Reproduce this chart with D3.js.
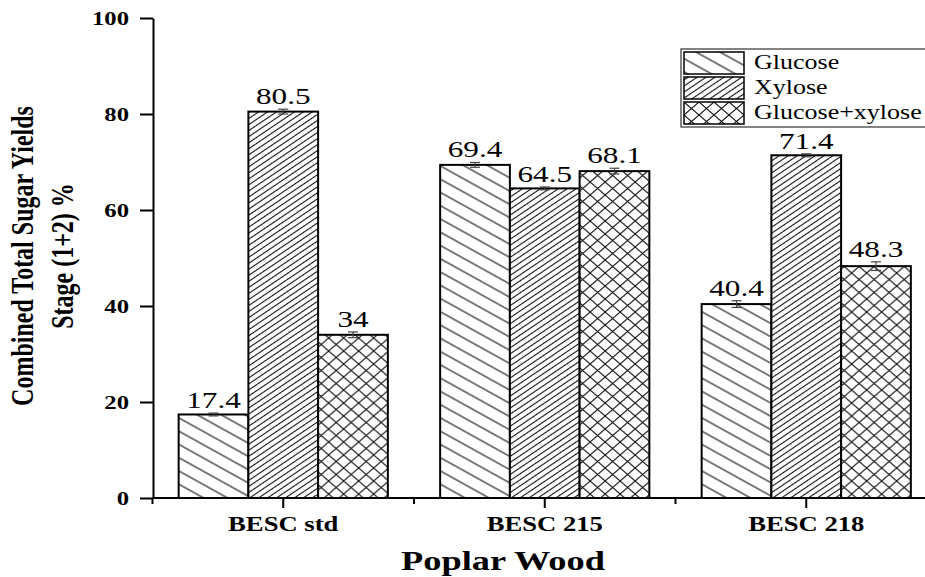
<!DOCTYPE html>
<html>
<head>
<meta charset="utf-8">
<script src="https://cdn.jsdelivr.net/npm/d3@7/dist/d3.min.js"></script>
<style>
  body { margin: 0; background: #fff; }
  svg { display: block; font-family: "Liberation Serif", "Times New Roman", serif; }
</style>
</head>
<body>
<svg id="chart" width="925" height="577"></svg>
<script>
const categories = ['BESC std', 'BESC 215', 'BESC 218'];
const series = ['Glucose', 'Xylose', 'Glucose+xylose'];
const glucose = [17.4, 69.4, 40.4];
const xylose = [80.5, 64.5, 71.4];
const combined = [34, 68.1, 48.3];
const glucoseErr = [0.3, 0.5, 0.7];
const xyloseErr = [0.5, 0.3, 0.3];
const combinedErr = [0.6, 0.6, 0.9];
const yTicks = [0, 20, 40, 60, 80, 100];

const values = [glucose, xylose, combined];
const errs = [glucoseErr, xyloseErr, combinedErr];
const rows = categories.map((c, i) => ({
  cat: c,
  bars: series.map((s, j) => ({ cat: c, s, j, v: values[j][i], e: errs[j][i] }))
}));

const SX = 1.3; // the original picture is stretched sideways
const svg = d3.select('#chart');

// hatch patterns
const defs = svg.append('defs');
const patIds = ['pat-glu', 'pat-xyl', 'pat-cross'];
function linePattern(id, gap, angle) {
  const p = defs.append('pattern').attr('id', id)
    .attr('patternUnits', 'userSpaceOnUse')
    .attr('width', 10).attr('height', gap)
    .attr('patternTransform', `rotate(${angle})`);
  p.append('rect').attr('width', 10).attr('height', gap).attr('fill', '#fff');
  p.append('line').attr('x1', 0).attr('x2', 10).attr('y1', gap / 2).attr('y2', gap / 2)
    .attr('stroke', '#111').attr('stroke-width', 1.1);
}
linePattern('pat-glu', 11.6, 29);
linePattern('pat-xyl', 5, -34);
const cp = defs.append('pattern').attr('id', 'pat-cross')
  .attr('patternUnits', 'userSpaceOnUse').attr('width', 15).attr('height', 13);
cp.append('rect').attr('width', 15).attr('height', 13).attr('fill', '#fff');
cp.append('path').attr('d', 'M0,0L15,13M15,0L0,13')
  .attr('stroke', '#111').attr('stroke-width', 1.1).attr('fill', 'none');

const x = d3.scaleBand().domain(categories).range([152.5, 937]).paddingInner(0.2).paddingOuter(0.1);
const xs = d3.scaleBand().domain(series).range([0, x.bandwidth()]);
const y = d3.scaleLinear().domain([0, 100]).range([498, 18]);

// bars
const groups = svg.selectAll('g.grp').data(rows).join('g').classed('grp', true)
  .attr('transform', d => `translate(${x(d.cat)},0)`);

groups.selectAll('rect.bar').data(d => d.bars).join('rect').classed('bar', true)
  .attr('x', d => xs(d.s))
  .attr('y', d => y(d.v))
  .attr('width', xs.bandwidth())
  .attr('height', d => y(0) - y(d.v))
  .attr('fill', d => `url(#${patIds[d.j]})`)
  .attr('stroke', '#000').attr('stroke-width', 2);

// error bars
const eb = groups.selectAll('g.err').data(d => d.bars).join('g').classed('err', true)
  .attr('transform', d => `translate(${xs(d.s) + xs.bandwidth() / 2},0)`)
  .attr('stroke', '#444').attr('stroke-width', 1.2);
eb.append('line').attr('y1', d => y(d.v + d.e)).attr('y2', d => y(d.v - d.e));
eb.append('line').attr('x1', -5).attr('x2', 5).attr('y1', d => y(d.v + d.e)).attr('y2', d => y(d.v + d.e));
eb.append('line').attr('x1', -5).attr('x2', 5).attr('y1', d => y(d.v - d.e)).attr('y2', d => y(d.v - d.e));

// value labels
groups.selectAll('text.val').data(d => d.bars).join('text').classed('val', true)
  .attr('transform', d => `translate(${xs(d.s) + xs.bandwidth() / 2},${y(d.v + d.e) - 5}) scale(${SX},1)`)
  .attr('text-anchor', 'middle')
  .attr('font-size', 24)
  .attr('fill', '#000')
  .text(d => d.v);

// y axis
const yAxis = svg.append('g').attr('transform', 'translate(153,0)')
  .call(d3.axisLeft(y).tickValues(yTicks).tickSize(13).tickSizeOuter(0).tickPadding(8));
yAxis.select('.domain').attr('stroke', '#000').attr('stroke-width', 2);
yAxis.selectAll('.tick line').attr('stroke', '#000').attr('stroke-width', 2);
yAxis.selectAll('.tick text')
  .attr('font-family', '"Liberation Serif", serif')
  .attr('font-size', 19).attr('font-weight', 'bold').attr('fill', '#000')
  .attr('x', null).attr('dy', null)
  .attr('transform', `translate(-24,6.5) scale(${SX},1)`);

// x axis
svg.append('line').attr('x1', 152).attr('x2', 937).attr('y1', y(0)).attr('y2', y(0))
  .attr('stroke', '#000').attr('stroke-width', 2);
const minor = d3.range(categories.length).map(i => x.range()[0] + i * x.step());
svg.selectAll('line.minor').data(minor).join('line').classed('minor', true)
  .attr('x1', d => d).attr('x2', d => d).attr('y1', y(0)).attr('y2', y(0) + 6)
  .attr('stroke', '#000').attr('stroke-width', 2);
svg.selectAll('line.major').data(categories).join('line').classed('major', true)
  .attr('x1', d => x(d) + x.bandwidth() / 2).attr('x2', d => x(d) + x.bandwidth() / 2)
  .attr('y1', y(0)).attr('y2', y(0) + 10)
  .attr('stroke', '#000').attr('stroke-width', 2);
svg.selectAll('text.cat').data(categories).join('text').classed('cat', true)
  .attr('transform', d => `translate(${x(d) + x.bandwidth() / 2},531) scale(${SX},1)`)
  .attr('text-anchor', 'middle').attr('font-size', 20.5).attr('font-weight', 'bold')
  .text(d => d);

// axis titles
svg.append('text')
  .attr('transform', `translate(503,570) scale(${SX},1)`)
  .attr('text-anchor', 'middle').attr('font-size', 28).attr('font-weight', 'bold')
  .text('Poplar Wood');

const yTitle = svg.append('text')
  .attr('transform', `translate(33,256) scale(${SX},1) rotate(-90)`)
  .attr('text-anchor', 'middle').attr('font-size', 24).attr('font-weight', 'bold');
yTitle.append('tspan').attr('x', 0).attr('dy', 0).text('Combined Total Sugar Yields');
yTitle.append('tspan').attr('x', 0).attr('dy', 31).text('Stage (1+2) %');

// legend
const lg = svg.append('g').attr('transform', 'translate(681,49)');
lg.append('rect').attr('width', 260).attr('height', 78)
  .attr('fill', '#fff').attr('stroke', '#333').attr('stroke-width', 1.2);
const li = lg.selectAll('g.item').data(series).join('g').classed('item', true)
  .attr('transform', (d, i) => `translate(3,${3 + i * 25})`);
li.append('rect').attr('width', 60).attr('height', 22)
  .attr('fill', (d, i) => `url(#${patIds[i]})`)
  .attr('stroke', '#000').attr('stroke-width', 1.5);
li.append('text')
  .attr('transform', `translate(70,17) scale(${SX},1)`)
  .attr('font-size', 20).text(d => d);
</script>
</body>
</html>
